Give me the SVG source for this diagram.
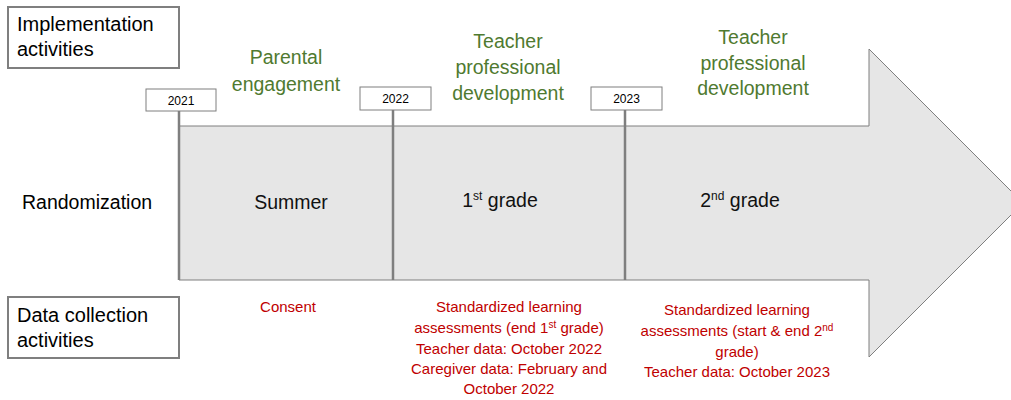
<svg xmlns="http://www.w3.org/2000/svg" width="1011" height="400" viewBox="0 0 1011 400">
<style>
text{font-family:"Liberation Sans",Arial,sans-serif}
.box{fill:#fff;stroke:#7f7f7f;stroke-width:2}
.yr{fill:#fff;stroke:#7f7f7f;stroke-width:1}
.lbl{font-size:20px;fill:#000}
.yt{font-size:12px;fill:#000;text-anchor:middle}
.gr{font-size:19.5px;fill:#4f7a30;text-anchor:middle}
.ph{font-size:19.5px;fill:#111;text-anchor:middle}
.rd{font-size:15px;fill:#c00000;text-anchor:middle}
.vl{stroke:#7f7f7f;stroke-width:2.5}
</style>
<g id="arrow">
<path d="M179,126 H869 V49 L1023,203 L869,357 V280 H179 Z" fill="#e6e6e6" stroke="#7f7f7f" stroke-width="1"/>
</g>
<g id="connectors">
<line class="vl" x1="179" y1="111" x2="179" y2="280"/>
<line class="vl" x1="393" y1="110" x2="393" y2="280"/>
<line class="vl" x1="625" y1="110" x2="625" y2="280"/>
</g>
<g id="impl">
<rect class="box" x="8" y="7" width="171" height="61"/>
<text class="lbl" x="17" y="31">Implementation</text>
<text class="lbl" x="17" y="56">activities</text>
</g>
<g id="data">
<rect class="box" x="8" y="297" width="171" height="61"/>
<text class="lbl" x="17" y="322">Data collection</text>
<text class="lbl" x="17" y="347">activities</text>
</g>
<g id="y2021">
<rect class="yr" x="146" y="89" width="70" height="22"/>
<text class="yt" x="181" y="104.5">2021</text>
</g>
<g id="y2022">
<rect class="yr" x="360" y="87" width="71" height="23"/>
<text class="yt" x="395.5" y="103">2022</text>
</g>
<g id="y2023">
<rect class="yr" x="591" y="87" width="71" height="23"/>
<text class="yt" x="626.5" y="103">2023</text>
</g>
<g id="randomization">
<text class="lbl" x="22" y="209" style="font-size:19.5px">Randomization</text>
</g>
<g id="parental">
<text class="gr" x="286" y="64">Parental</text>
<text class="gr" x="286" y="91">engagement</text>
</g>
<g id="tpd1">
<text class="gr" x="508" y="48">Teacher</text>
<text class="gr" x="508" y="74">professional</text>
<text class="gr" x="508" y="100">development</text>
</g>
<g id="tpd2">
<text class="gr" x="753" y="44">Teacher</text>
<text class="gr" x="753" y="70">professional</text>
<text class="gr" x="753" y="95">development</text>
</g>
<g id="summer"><text class="ph" x="291" y="209">Summer</text></g>
<g id="grade1"><text class="ph" x="500" y="207">1<tspan font-size="12" dy="-7">st</tspan><tspan dy="7"> grade</tspan></text></g>
<g id="grade2"><text class="ph" x="740" y="207">2<tspan font-size="12" dy="-7">nd</tspan><tspan dy="7"> grade</tspan></text></g>
<g id="consent"><text class="rd" x="288" y="312">Consent</text></g>
<g id="dc1">
<text class="rd" x="509" y="312">Standardized learning</text>
<text class="rd" x="509" y="333">assessments (end 1<tspan font-size="10" dy="-5">st</tspan><tspan dy="5"> grade)</tspan></text>
<text class="rd" x="509" y="354">Teacher data: October 2022</text>
<text class="rd" x="509" y="374">Caregiver data: February and</text>
<text class="rd" x="509" y="394">October 2022</text>
</g>
<g id="dc2">
<text class="rd" x="737" y="315">Standardized learning</text>
<text class="rd" x="737" y="336">assessments (start &amp; end 2<tspan font-size="10" dy="-5">nd</tspan></text>
<text class="rd" x="737" y="357">grade)</text>
<text class="rd" x="737" y="377">Teacher data: October 2023</text>
</g>
</svg>
